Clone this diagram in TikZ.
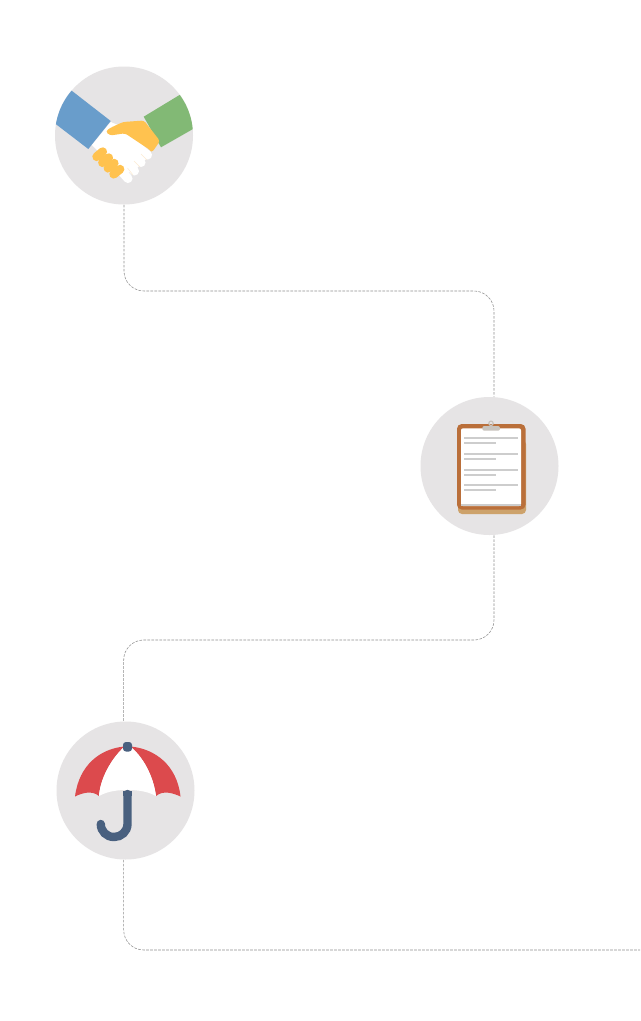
\documentclass[tikz,border=0pt]{standalone}
\usetikzlibrary{calc}
\definecolor{discgray}{HTML}{E6E4E5}
\definecolor{cuffblue}{HTML}{699DCB}
\definecolor{cuffgreen}{HTML}{82B975}
\definecolor{handy}{HTML}{FFC24F}
\definecolor{fingline}{HTML}{FDEBD2}
\definecolor{board}{HTML}{BA6F3A}
\definecolor{boardlow}{HTML}{CDA26B}
\definecolor{txtline}{HTML}{CDCDCD}
\definecolor{clipgray}{HTML}{C8C3BC}
\definecolor{umbred}{HTML}{DC4A4D}
\definecolor{umbblue}{HTML}{49607F}
\definecolor{linkgray}{HTML}{8F8F8F}
\tikzset{
  discnode/.style={circle,fill=discgray,minimum size=103.5pt,inner sep=0pt,draw=none},
  linkline/.style={draw=linkgray,line width=0.42pt,dash pattern=on 2pt off 1pt,rounded corners=15pt},
  fing/.style={line width=6.8pt,line cap=round,white},
  yfing/.style={line width=6.6pt,line cap=round,handy},
  ruleline/.style={line width=1.6pt,txtline},
}
\begin{document}
\begin{tikzpicture}[x=0.75pt,y=-0.75pt]
\useasboundingbox (0,0) rectangle (640,1021);
\fill[white] (0,0) rectangle (640,1021);
\node[discnode] (c1) at (124,135.5) {};
\node[discnode] (c2) at (489.5,466) {};
\node[discnode] (c3) at (125.5,790.5) {};
\coordinate (j1) at (494,291);
\coordinate (j2) at (123.7,640);
\coordinate (j3) at (640,950);
\draw[linkline] (c1.south) -- (c1.south |- j1) -- (j1) -- (j1 |- c2.north);
\draw[linkline] (c2.south -| j1) -- (j1 |- j2) -- (j2) -- (j2 |- c3.north);
\draw[linkline] (c3.south -| j2) -- (j2 |- j3) -- (j3);
% handshake
\begin{scope}
\clip (124,135.5) circle (69);
\fill[cuffblue] (71.7,90.7) -- (110.7,121) -- (88.3,149) -- (40,112) -- (50,80) -- cycle;
\fill[cuffgreen] (180,94.7) -- (143.7,116.7) -- (161,147.3) -- (200,125) -- (200,90) -- cycle;
\end{scope}
\fill[white] (110.7,122) -- (92,145) -- (100,153) -- (120,175) -- (135,170) -- (150,155) -- (125,128) -- cycle;
\draw[fing] (122,134) -- (147.5,155);
\draw[fing] (120,142) -- (141,162.5);
\draw[fing] (115,150) -- (134.5,171);
\draw[fing] (110,158) -- (128,178.5);
\draw[fingline,line width=0.4pt] (141,154) -- (147,160);
\draw[fingline,line width=0.4pt] (134,161) -- (140,167);
\draw[fingline,line width=0.4pt] (127.5,168) -- (133,175);
\fill[handy,rounded corners=2pt] (144,120.5) -- (123,122) -- (110,128) -- (105.5,131.5) -- (110,135.5) -- (125,133.3) -- (150,150) -- (152,152.5) -- (160,141) -- cycle;
\draw[yfing] (96.7,156.7) -- (102.7,151.7);
\draw[yfing] (102.5,162.7) -- (108.7,157.7);
\draw[yfing] (108,168.2) -- (114.2,163.2);
\draw[yfing] (113.7,174.2) -- (120,169.2);
% clipboard
\fill[boardlow,rounded corners=3pt] (458,440) rectangle (526,514);
\fill[board,rounded corners=3.5pt] (457,424) rectangle (525.5,509.5);
\fill[white,rounded corners=1.5pt] (461,428.3) rectangle (521,506);
\fill[txtline] (461,503.5) rectangle (521,506);
\draw[clipgray,line width=0.9pt] (491,423.3) circle (2.2);
\fill[clipgray,rounded corners=1.5pt] (482.3,426) rectangle (500,430.7);
\foreach \y in {438.3,453.8,469.7,485}{
  \draw[ruleline] (464.3,\y) -- (517.5,\y);
  \draw[ruleline] (464.3,\y+4.9) -- (496.3,\y+4.9);
}
% umbrella
\fill[umbred] (124,746.5) .. controls (100,749) and (79,765) .. (75,796.5)
  .. controls (82,793) and (92,790) .. (99,796) .. controls (100,780) and (110,760) .. (124,747)
  -- (131,747) .. controls (146,760) and (154,780) .. (156,796) .. controls (163,790) and (173,793) .. (180.5,796.5)
  .. controls (177,765) and (155,749) .. (131,746.5) -- cycle;
\fill[white] (124,747) .. controls (110,760) and (100,780) .. (99,796)
  .. controls (108,791) and (118,790) .. (127,790) .. controls (137,790) and (147,791) .. (156,796)
  .. controls (154,780) and (146,760) .. (131,747) -- cycle;
\fill[umbblue,rounded corners=2.2pt] (123,742) rectangle (132,751.5);
\draw[umbblue,line width=6.3pt,line cap=round] (100.8,824) .. controls (100.8,831.5) and (106.7,837) .. (114,837) .. controls (121.3,837) and (127.5,831.5) .. (127.5,824) -- (127.5,794);
\fill[umbblue] (123.3,790.5) rectangle (131.7,796);
\end{tikzpicture}
\end{document}
